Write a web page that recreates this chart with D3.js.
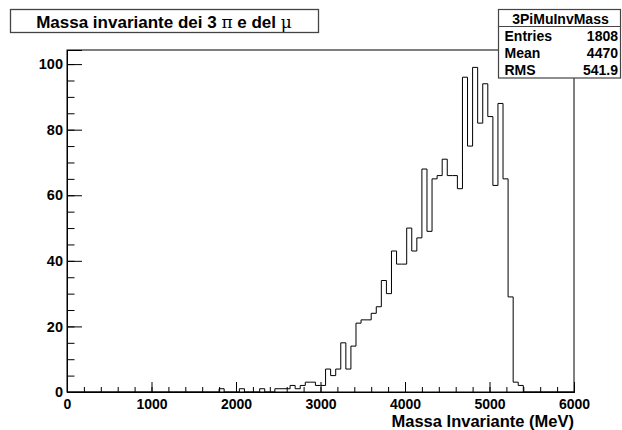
<!DOCTYPE html>
<html><head><meta charset="utf-8">
<script src="https://cdn.jsdelivr.net/npm/d3@7"></script>
<style>
body{margin:0;background:#fff}
text{font-family:"Liberation Sans",Arial,Helvetica,sans-serif;font-weight:bold;fill:#000}
</style>
</head><body><svg id="c" width="622" height="430"></svg>
<script>
// ---- data ----
const xRange = [0, 6000];
const nBins = 100;
const counts = [
  0,0,0,0,0,0,0,0,0,0,
  0,0,0,0,0,0,0,0,0,0,
  0,0,0,0,0,0,0,0,0,0,
  1,0,0,0,1,0,0,0,1,0,
  0,1,1,1,2,1,2,3,3,2,
  2,7,5,7,15,7,14,21,22,22,
  24,26,34,30,43,39,39,50,43,47,
  68,49,65,66,71,66,66,62,96,75,
  99,82,94,84,63,88,65,29,3,2,
  0,0,0,0,0,0,0,0,0,0
];
const xTicks = [0,1000,2000,3000,4000,5000,6000];
const xMinorTicks = d3.range(0, 6001, 200);
const yTicks = [0,20,40,60,80,100];
const yMinorTicks = d3.range(0, 104, 5);
const yMax = 104.3;
const histName = "3PiMuInvMass";
const statsLabels = ["Entries","Mean","RMS"];
const statsValues = ["1808","4470","541.9"];
const xTitle = "Massa Invariante (MeV)";

// ---- layout ----
const svg = d3.select("#c");
const L = 67, R = 574, T = 50, B = 392;
const x = d3.scaleLinear().domain(xRange).range([L, R]);
const y = d3.scaleLinear().domain([0, yMax]).range([B, T]);
const binW = (xRange[1]-xRange[0]) / nBins;

svg.append("rect").attr("width",622).attr("height",430).attr("fill","#fff");

// histogram outline
const pts = [[x(xRange[0]), y(0)]];
counts.forEach((c,i) => {
  const lo = xRange[0] + i*binW, hi = lo + binW;
  pts.push([x(lo), y(c)]);
  pts.push([x(hi), y(c)]);
});
pts.push([x(xRange[1]), y(0)]);
svg.append("path").attr("d", d3.line()(pts))
  .attr("fill","none").attr("stroke","#000").attr("stroke-width",1);

// frame
svg.append("rect").attr("x",L).attr("y",T).attr("width",R-L).attr("height",B-T)
  .attr("fill","none").attr("stroke","#000").attr("stroke-width",1);

// x axis
const gx = svg.append("g").attr("transform",`translate(0,${B})`);
gx.call(d3.axisBottom(x).tickValues(xMinorTicks).tickSize(-5).tickFormat(""));
gx.append("g").call(d3.axisBottom(x).tickValues(xTicks).tickSize(-10).tickPadding(7).tickFormat(d3.format("d")));
gx.selectAll(".domain").attr("stroke","#000");
gx.selectAll("line").attr("stroke","#000");
gx.selectAll("text").attr("font-size",14).attr("font-family",'"Liberation Sans",Arial,sans-serif').attr("font-weight","bold").attr("fill","#000");

// y axis
const gy = svg.append("g").attr("transform",`translate(${L},0)`);
gy.call(d3.axisLeft(y).tickValues(yMinorTicks).tickSize(-7.5).tickFormat(""));
gy.append("g").call(d3.axisLeft(y).tickValues(yTicks).tickSize(-15).tickPadding(4).tickFormat(d3.format("d")));
gy.selectAll(".domain").attr("stroke","#000");
gy.selectAll("line").attr("stroke","#000");
gy.selectAll("text").attr("font-size",14.5).attr("font-family",'"Liberation Sans",Arial,sans-serif').attr("font-weight","bold").attr("fill","#000");

// x title
svg.append("text").attr("x",R).attr("y",427).attr("text-anchor","end")
  .attr("font-size",16.5).text(xTitle);

// title box
svg.append("rect").attr("x",10.5).attr("y",9.5).attr("width",308).attr("height",23)
  .attr("fill","#fff").attr("stroke","#444").attr("stroke-width",1.3);
const tt = svg.append("text").attr("x",164).attr("y",27.5).attr("text-anchor","middle").attr("font-size",17);
tt.append("tspan").text("Massa invariante dei 3 ");
tt.append("tspan").attr("font-family","'DejaVu Serif',serif").attr("font-weight","normal").text("π");
tt.append("tspan").text(" e del ");
tt.append("tspan").attr("font-family","'DejaVu Serif',serif").attr("font-weight","normal").text("μ");

// stats box
const sx = 498.5, sy = 9.5, sw = 122, sh = 68.5;
svg.append("rect").attr("x",sx).attr("y",sy).attr("width",sw).attr("height",sh)
  .attr("fill","#fff").attr("stroke","#444").attr("stroke-width",1.2);
svg.append("line").attr("x1",sx).attr("x2",sx+sw).attr("y1",26.5).attr("y2",26.5)
  .attr("stroke","#444").attr("stroke-width",1.2);
svg.append("text").attr("x",sx+sw/2+1).attr("y",23.5).attr("text-anchor","middle").attr("font-size",14).text(histName);
statsLabels.forEach((lab,i) => {
  const by = 41 + i*17;
  svg.append("text").attr("x",sx+6).attr("y",by).attr("font-size",14).text(lab);
  svg.append("text").attr("x",sx+sw-2.5).attr("y",by).attr("text-anchor","end").attr("font-size",14).text(statsValues[i]);
});
</script>
</body></html>
